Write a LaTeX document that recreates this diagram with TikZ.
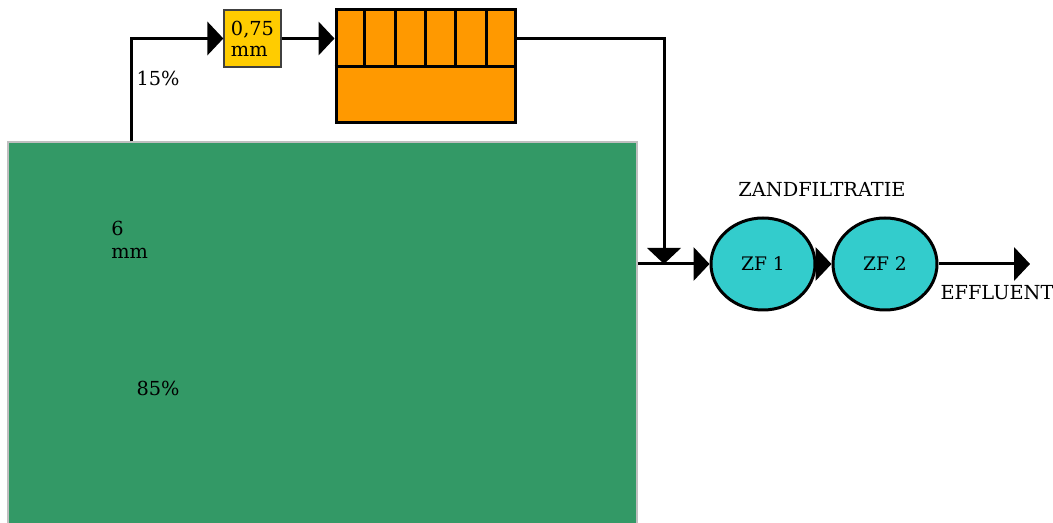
\documentclass[tikz,border=0pt]{standalone}
\usepackage{fontspec}
\setmainfont{DejaVu Serif}
\usetikzlibrary{arrows.meta,positioning,shapes.geometric,calc}
\definecolor{basingreen}{RGB}{51,153,102}
\definecolor{sieveyellow}{RGB}{255,204,0}
\definecolor{bufferorange}{RGB}{255,153,0}
\definecolor{filtercyan}{RGB}{51,204,204}
\tikzset{
  flow/.style={draw=black,line width=2.25pt,-{Triangle[length=12pt,width=25pt]}},
  plain/.style={draw=black,line width=2.25pt},
  basin/.style={draw=black!25,line width=1.1pt,fill=basingreen,minimum width=471.75pt,
                minimum height=288pt,inner sep=0pt},
  sieve/.style={draw=black!75,line width=1pt,fill=sieveyellow,minimum size=42.75pt,
                inner sep=0pt,align=left,font=\fontsize{14.5}{15.5}\selectfont},
  buffer/.style={draw=black,line width=2.25pt,fill=bufferorange,minimum width=134.25pt,
                 minimum height=84.75pt,inner sep=0pt},
  filter/.style={ellipse,draw=black,line width=2.25pt,fill=filtercyan,minimum width=78pt,
                 minimum height=69pt,inner sep=0pt,font=\fontsize{14}{16}\selectfont},
  lbl/.style={font=\fontsize{14.5}{17}\selectfont,inner sep=0pt},
}
\begin{document}
\begin{tikzpicture}[x=0.75pt,y=-0.75pt]
  \useasboundingbox (0,0) rectangle (1053,523);
  \node[basin] (basin) at (322.5,334) {};
  \node[sieve] (sieve) at (252.5,38.5) {0,75\\mm};
  \node[buffer] (buffer) at (425.5,66.5) {};
  \draw[plain] (buffer.west) -- (buffer.east);
  \foreach \i in {1,...,5}
    {\draw[plain] ($(buffer.north west)!\i/6!(buffer.north east)$)
                  -- ($(buffer.west)!\i/6!(buffer.east)$);}
  \node[filter] (zf1) at (763,264) {ZF 1};
  \node[filter] (zf2) at (885,264) {ZF 2};
  \coordinate (split) at (131,38.5);
  \coordinate (merge) at (664,264);
  \coordinate (out) at (1030,264);
  \draw[flow] (basin.north -| split) -- (split) -- (sieve.west);
  \draw[flow] (sieve.east) -- (sieve.east -| buffer.west);
  \draw[flow] (buffer.east |- sieve) -- (merge |- sieve) -- (merge);
  \draw[flow] (basin.east |- merge) -- (zf1.west);
  \draw[flow] (zf1.east) -- (zf2.west);
  \draw[flow] (zf2.east) -- (out);
  \node[lbl] (zandlabel) at (822,190) {ZANDFILTRATIE};
  \node[lbl] (efflabel) at (997,293) {EFFLUENT};
  \node[lbl] (toplabel) at (158,78) {15\%};
  \node[lbl,anchor=west,align=left] (sizelabel) at (111,240) {6\\mm};
  \node[lbl] (bottomlabel) at (158,388) {85\%};
\end{tikzpicture}
\end{document}
